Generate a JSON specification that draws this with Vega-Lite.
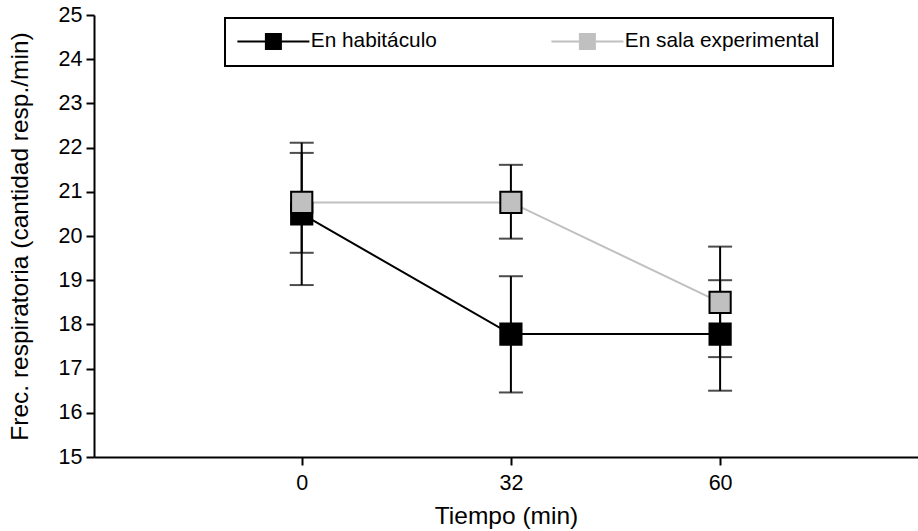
{
  "$schema": "https://vega.github.io/schema/vega-lite/v6.json",
  "width": 824,
  "height": 442,
  "autosize": "none",
  "padding": {"left": 94, "top": 15, "right": 0, "bottom": 74},
  "background": "white",
  "config": {
    "view": {"stroke": null},
    "font": "Liberation Sans",
    "axis": {
      "domainColor": "black",
      "domainWidth": 2,
      "tickColor": "black",
      "tickWidth": 2,
      "tickSize": 8,
      "grid": false,
      "labelFont": "Liberation Sans",
      "labelFontSize": 21.5,
      "labelColor": "black",
      "titleFont": "Liberation Sans",
      "titleFontSize": 24.5,
      "titleFontWeight": "normal",
      "titleColor": "black"
    },
    "legend": {
      "labelFont": "Liberation Sans",
      "labelFontSize": 20.8,
      "labelColor": "black",
      "labelLimit": 400
    }
  },
  "data": {
    "values": [
      {"serie": "En habitáculo", "tiempo": "0", "media": 20.5, "inf": 18.89, "sup": 22.11},
      {"serie": "En habitáculo", "tiempo": "32", "media": 17.78, "inf": 16.46, "sup": 19.09},
      {"serie": "En habitáculo", "tiempo": "60", "media": 17.78, "inf": 16.5, "sup": 19.0},
      {"serie": "En sala experimental", "tiempo": "0", "media": 20.76, "inf": 19.62, "sup": 21.88},
      {"serie": "En sala experimental", "tiempo": "32", "media": 20.76, "inf": 19.94, "sup": 21.61},
      {"serie": "En sala experimental", "tiempo": "60", "media": 18.5, "inf": 17.26, "sup": 19.76}
    ]
  },
  "encoding": {
    "x": {
      "field": "tiempo",
      "type": "ordinal",
      "sort": ["0", "32", "60"],
      "scale": {"type": "point", "padding": 0.9694, "align": 0.5121},
      "axis": {"title": "Tiempo (min)", "labelAngle": 0, "labelPadding": 7, "titlePadding": 11}
    }
  },
  "layer": [
    {
      "mark": {"type": "line", "strokeWidth": 2},
      "encoding": {
        "y": {
          "field": "media",
          "type": "quantitative",
          "scale": {"domain": [15, 25], "nice": false, "zero": false},
          "axis": {
            "title": "Frec. respiratoria (cantidad resp./min)",
            "values": [15, 16, 17, 18, 19, 20, 21, 22, 23, 24, 25],
            "labelPadding": 4,
            "titlePadding": 26
          }
        },
        "stroke": {
          "field": "serie",
          "type": "nominal",
          "scale": {"domain": ["En habitáculo", "En sala experimental"], "range": ["#000000", "#c0c0c0"]},
          "legend": {
            "title": null,
            "orient": "none",
            "legendX": 131,
            "legendY": 3,
            "direction": "horizontal",
            "padding": 13,
            "strokeColor": "black",
            "symbolType": "M-4.8,0H4.8M-1,-1H1V1H-1Z",
            "symbolSize": 225,
            "symbolStrokeWidth": 2,
            "symbolOffset": 25,
            "labelOffset": 27,
            "columnPadding": 110,
            "encode": {
              "legend": {"update": {"strokeWidth": {"value": 2}, "width": {"value": 611}}},
              "symbols": {
                "update": {
                  "fill": [
                    {"test": "datum.value === 'En habitáculo'", "value": "#000000"},
                    {"value": "#c0c0c0"}
                  ],
                  "fillOpacity": {"value": 1}
                }
              }
            }
          }
        }
      }
    },
    {
      "mark": {"type": "rule", "color": "black", "strokeWidth": 2},
      "encoding": {
        "y": {"field": "inf", "type": "quantitative"},
        "y2": {"field": "sup"}
      }
    },
    {
      "mark": {"type": "tick", "color": "black", "size": 24, "thickness": 2},
      "encoding": {"y": {"field": "inf", "type": "quantitative"}}
    },
    {
      "mark": {"type": "tick", "color": "black", "size": 24, "thickness": 2},
      "encoding": {"y": {"field": "sup", "type": "quantitative"}}
    },
    {
      "mark": {"type": "point", "shape": "square", "filled": true, "size": 450, "stroke": "black", "strokeWidth": 2, "opacity": 1},
      "encoding": {
        "y": {"field": "media", "type": "quantitative"},
        "fill": {
          "field": "serie",
          "type": "nominal",
          "scale": {"domain": ["En habitáculo", "En sala experimental"], "range": ["#000000", "#c0c0c0"]},
          "legend": null
        }
      }
    }
  ]
}
